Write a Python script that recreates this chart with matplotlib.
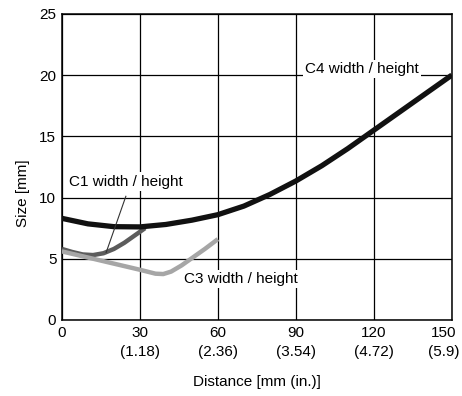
import matplotlib
matplotlib.use("Agg")
import matplotlib.pyplot as plt
import matplotlib.transforms as mtransforms

plt.rcParams['font.family'] = ['Liberation Sans', 'DejaVu Sans']

# C4 width / height (black)
c4_x = [0, 10, 20, 30, 40, 50, 60, 70, 80, 90, 100, 110, 120, 130, 140, 150]
c4_y = [8.3, 7.85, 7.62, 7.6, 7.8, 8.15, 8.6, 9.3, 10.25, 11.35, 12.6, 14.0, 15.5, 17.0, 18.5, 20.0]

# C1 width / height (dark gray)
c1_x = [0, 4, 8, 12, 16, 20, 24, 28, 32]
c1_y = [5.8, 5.55, 5.35, 5.3, 5.45, 5.8, 6.3, 6.9, 7.5]

# C3 width / height (light gray)
c3_x = [0, 10, 20, 30, 36, 39, 42, 46, 50, 55, 60]
c3_y = [5.6, 5.1, 4.6, 4.1, 3.78, 3.75, 3.95, 4.45, 5.05, 5.8, 6.6]

x_ticks = [0, 30, 60, 90, 120, 150]
x_labels = ['0', '30\n(1.18)', '60\n(2.36)', '90\n(3.54)', '120\n(4.72)', '150\n(5.9)']
y_ticks = [0, 5, 10, 15, 20, 25]

fig = plt.figure(figsize=(4.62, 3.96), dpi=100)
ax = fig.add_axes([0.134, 0.192, 0.844, 0.773])

ax.plot(c4_x, c4_y, color='#111111', lw=3.8, solid_capstyle='butt', zorder=4)
ax.plot(c1_x, c1_y, color='#5c5c5c', lw=3.2, solid_capstyle='butt', zorder=3)
ax.plot(c3_x, c3_y, color='#a6a6a6', lw=3.2, solid_capstyle='butt', zorder=3)

ax.set_xlim(0, 150)
ax.set_ylim(0, 25)
ax.set_xticks(x_ticks)
ax.set_xticklabels(x_labels, linespacing=1.5)
ax.set_yticks(y_ticks)
ax.tick_params(length=0, labelsize=11, pad=4)
ax.grid(True, color='black', lw=0.9)
ax.set_axisbelow(True)
for s in ax.spines.values():
    s.set_linewidth(1.1)

# last x label sits a bit left so it stays inside the figure
last = ax.get_xticklabels()[-1]
last.set_transform(last.get_transform() + mtransforms.ScaledTranslation(-8 / 100, 0, fig.dpi_scale_trans))

ax.set_xlabel('Distance [mm (in.)]', fontsize=11)
ax.xaxis.set_label_coords(0.5, -0.18)
ax.set_ylabel('Size [mm]', fontsize=11)
ax.yaxis.set_label_coords(-0.082, 0.415)

box = dict(facecolor='white', edgecolor='none', pad=1.5)
ax.text(115.4, 20.5, 'C4 width / height', fontsize=11, ha='center', va='center', bbox=box, zorder=5)
ax.text(24.6, 11.3, 'C1 width / height', fontsize=11, ha='center', va='center', bbox=box, zorder=5)
ax.text(69, 3.35, 'C3 width / height', fontsize=11, ha='center', va='center', bbox=box, zorder=5)
ax.plot([24.6, 17], [10.1, 5.5], color='#333333', lw=0.8, zorder=5)

fig.savefig('out.png', dpi=100)
